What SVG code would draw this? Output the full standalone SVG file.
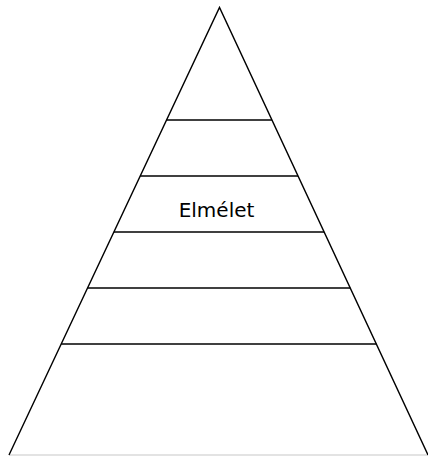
<svg xmlns="http://www.w3.org/2000/svg" width="428" height="456" viewBox="0 0 428 456">
<style>
.ln{stroke:#000;stroke-width:1.4;fill:none;stroke-linecap:butt}
.lbl{font-family:"DejaVu Sans",sans-serif;font-size:20px;fill:#000}
</style>
<rect width="428" height="456" fill="#fff"/>
<g id="pyramid">
<polyline class="ln" points="9,455 219.5,7.5 428,455"/>
<line class="ln" x1="9" y1="455" x2="428" y2="455" stroke-opacity="0.15"/>
</g>
<g id="levels">
<line class="ln" x1="166.6" y1="120" x2="271.9" y2="120"/>
<line class="ln" x1="140.2" y1="176" x2="298" y2="176"/>
<line class="ln" x1="113.9" y1="232" x2="324.1" y2="232"/>
<line class="ln" x1="87.6" y1="288" x2="350.2" y2="288"/>
<line class="ln" x1="61.2" y1="344" x2="376.3" y2="344"/>
</g>
<g id="label">
<text class="lbl" x="216.5" y="216.5" text-anchor="middle">Elmélet</text>
</g>
</svg>
